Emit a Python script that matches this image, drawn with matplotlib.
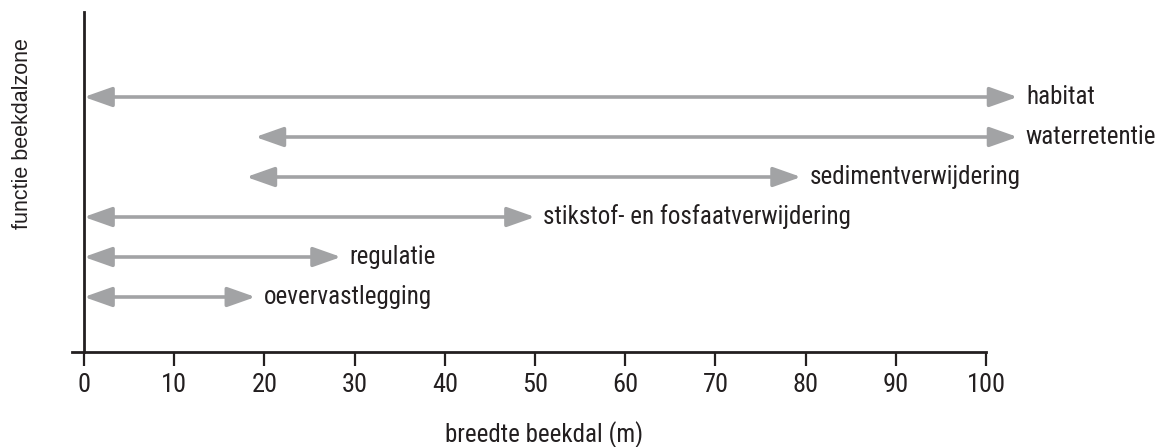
import matplotlib
matplotlib.use("Agg")
import matplotlib.pyplot as plt
from matplotlib.patches import FancyArrowPatch

functions = ["oevervastlegging", "regulatie", "stikstof- en fosfaatverwijdering",
             "sedimentverwijdering", "waterretentie", "habitat"]
start_m = [0, 0, 0, 18, 19, 0]
end_m = [19, 28.5, 50, 79.5, 103.5, 103.5]
xticks = [0, 10, 20, 30, 40, 50, 60, 70, 80, 90, 100]

narrow = ["Roboto Condensed", "DejaVu Sans"]
ink = "#231f20"
grey = "#a2a3a5"

fig = plt.figure(figsize=(11.72, 4.47), dpi=100)
ax = fig.add_axes([72/1172, 1-352/447, (986-72)/1172, (352-12)/447])

ax.set_xlim(-1.33, 100)
ax.set_ylim(-0.375, 8.125)

for i, (name, s, e) in enumerate(zip(functions, start_m, end_m)):
    y = i + 1
    arr = FancyArrowPatch((s, y), (e, y), arrowstyle="<|-|>,head_length=17,head_width=6",
                          mutation_scale=1, color=grey, lw=2.6, shrinkA=0, shrinkB=0,
                          clip_on=False)
    ax.add_patch(arr)
    ax.annotate(name, xy=(e, y), xytext=(6, 0), textcoords="offset points",
                va="center", ha="left", fontsize=18, family=narrow, color=ink,
                annotation_clip=False)

for side in ["top", "right"]:
    ax.spines[side].set_visible(False)
ax.spines["left"].set_position(("data", 0))
for side in ["left", "bottom"]:
    ax.spines[side].set_linewidth(2)
    ax.spines[side].set_color(ink)

ax.set_yticks([])
ax.set_xticks(xticks)
ax.set_xticklabels([str(t) for t in xticks], fontsize=19, family=narrow, color=ink)
ax.tick_params(axis="x", length=10, width=1.6, color=ink, pad=5)

fig.text(12/1172, 1-134/447, "functie beekdalzone", rotation=90, ha="left", va="center",
         fontsize=15.5, family=["Liberation Sans", "DejaVu Sans"], color=ink)
fig.text(544/1172, 1-435/447, "breedte beekdal (m)", ha="center", va="center",
         fontsize=18, family=narrow, color=ink)

fig.savefig("out.png", dpi=100)
